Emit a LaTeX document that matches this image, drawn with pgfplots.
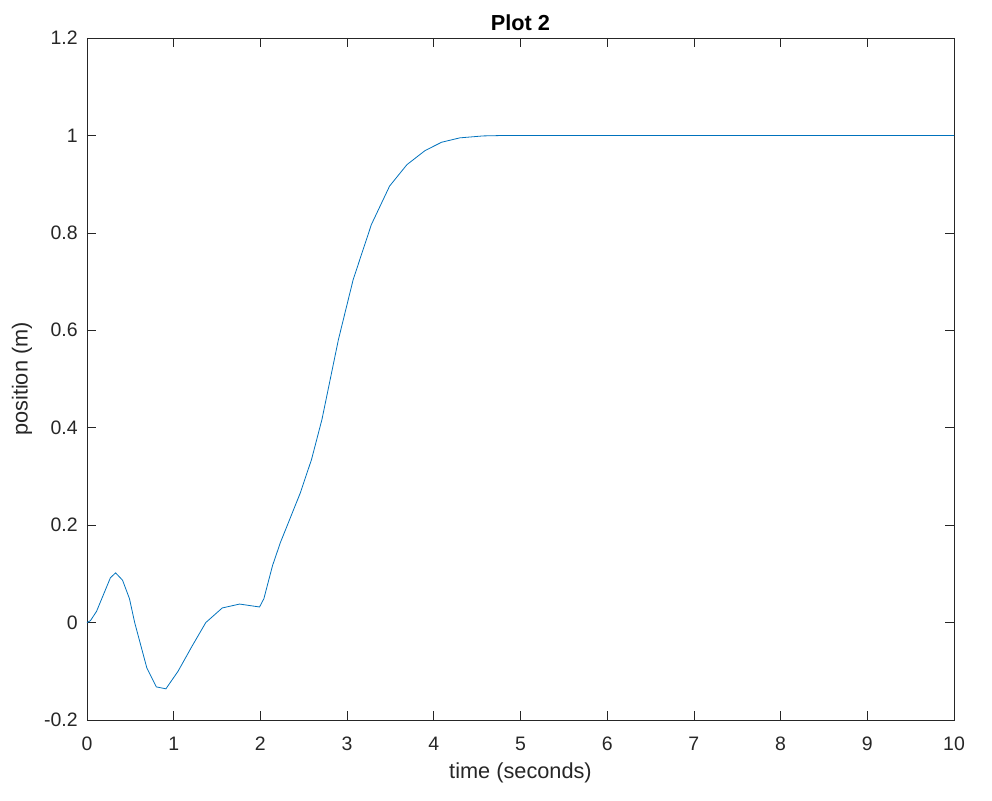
\documentclass[border=0pt]{standalone}
\usepackage{pgfplots}
\pgfplotsset{compat=1.18}
\usepackage{fontspec}
\setmainfont{Liberation Sans}
\definecolor{mblue}{rgb}{0,0.447,0.741}
\definecolor{axgray}{rgb}{0.15,0.15,0.15}
\begin{document}
\begin{tikzpicture}
\begin{axis}[
  at={(0,0)}, anchor=south west,
  scale only axis,
  width=650.25pt, height=511.5pt,
  xmin=0, xmax=10, ymin=-0.2, ymax=1.2,
  xtick={0,1,...,10},
  ytick={-0.2,0,0.2,0.4,0.6,0.8,1,1.2},
  yticklabels={-0.2,0,0.2,0.4,0.6,0.8,1,1.2},
  tick align=inside,
  major tick length=6.5pt,
  axis line style={axgray, line width=0.5pt},
  every tick/.style={axgray, line width=0.5pt},
  tick label style={font=\fontsize{14.6}{16}\selectfont, text=axgray},
  /pgf/number format/assume math mode=true,
  xticklabel style={yshift=-9pt},
  yticklabel style={xshift=-3.5pt},
  xlabel={time (seconds)},
  ylabel={position (m)},
  label style={font=\fontsize{16.3}{18}\selectfont, text=axgray},
  xlabel style={yshift=-2pt},
  ylabel style={yshift=2pt},
  title={\textbf{Plot 2}},
  title style={font=\fontsize{16.3}{18}\selectfont, yshift=-4pt},
]
\addplot[mblue, line width=0.6pt] coordinates {
(0,0) (0.04,0.004) (0.11,0.023) (0.27,0.092) (0.33,0.102) (0.41,0.087)
(0.49,0.049) (0.55,0.0) (0.69,-0.093) (0.80,-0.132) (0.91,-0.136)
(1.05,-0.100) (1.21,-0.049) (1.37,0.0) (1.56,0.030) (1.76,0.038)
(1.99,0.032) (2.04,0.049) (2.14,0.117) (2.23,0.164) (2.46,0.266)
(2.59,0.335) (2.71,0.417) (2.90,0.581) (3.07,0.704) (3.28,0.817)
(3.49,0.896) (3.69,0.940) (3.90,0.969) (4.09,0.986) (4.30,0.995)
(4.57,0.9990) (4.76,0.9997) (5.2,1.0) (10,1.0)
};
\end{axis}
\useasboundingbox (-65.25pt,-60pt) rectangle (678.75pt,540pt);
\end{tikzpicture}
\end{document}
